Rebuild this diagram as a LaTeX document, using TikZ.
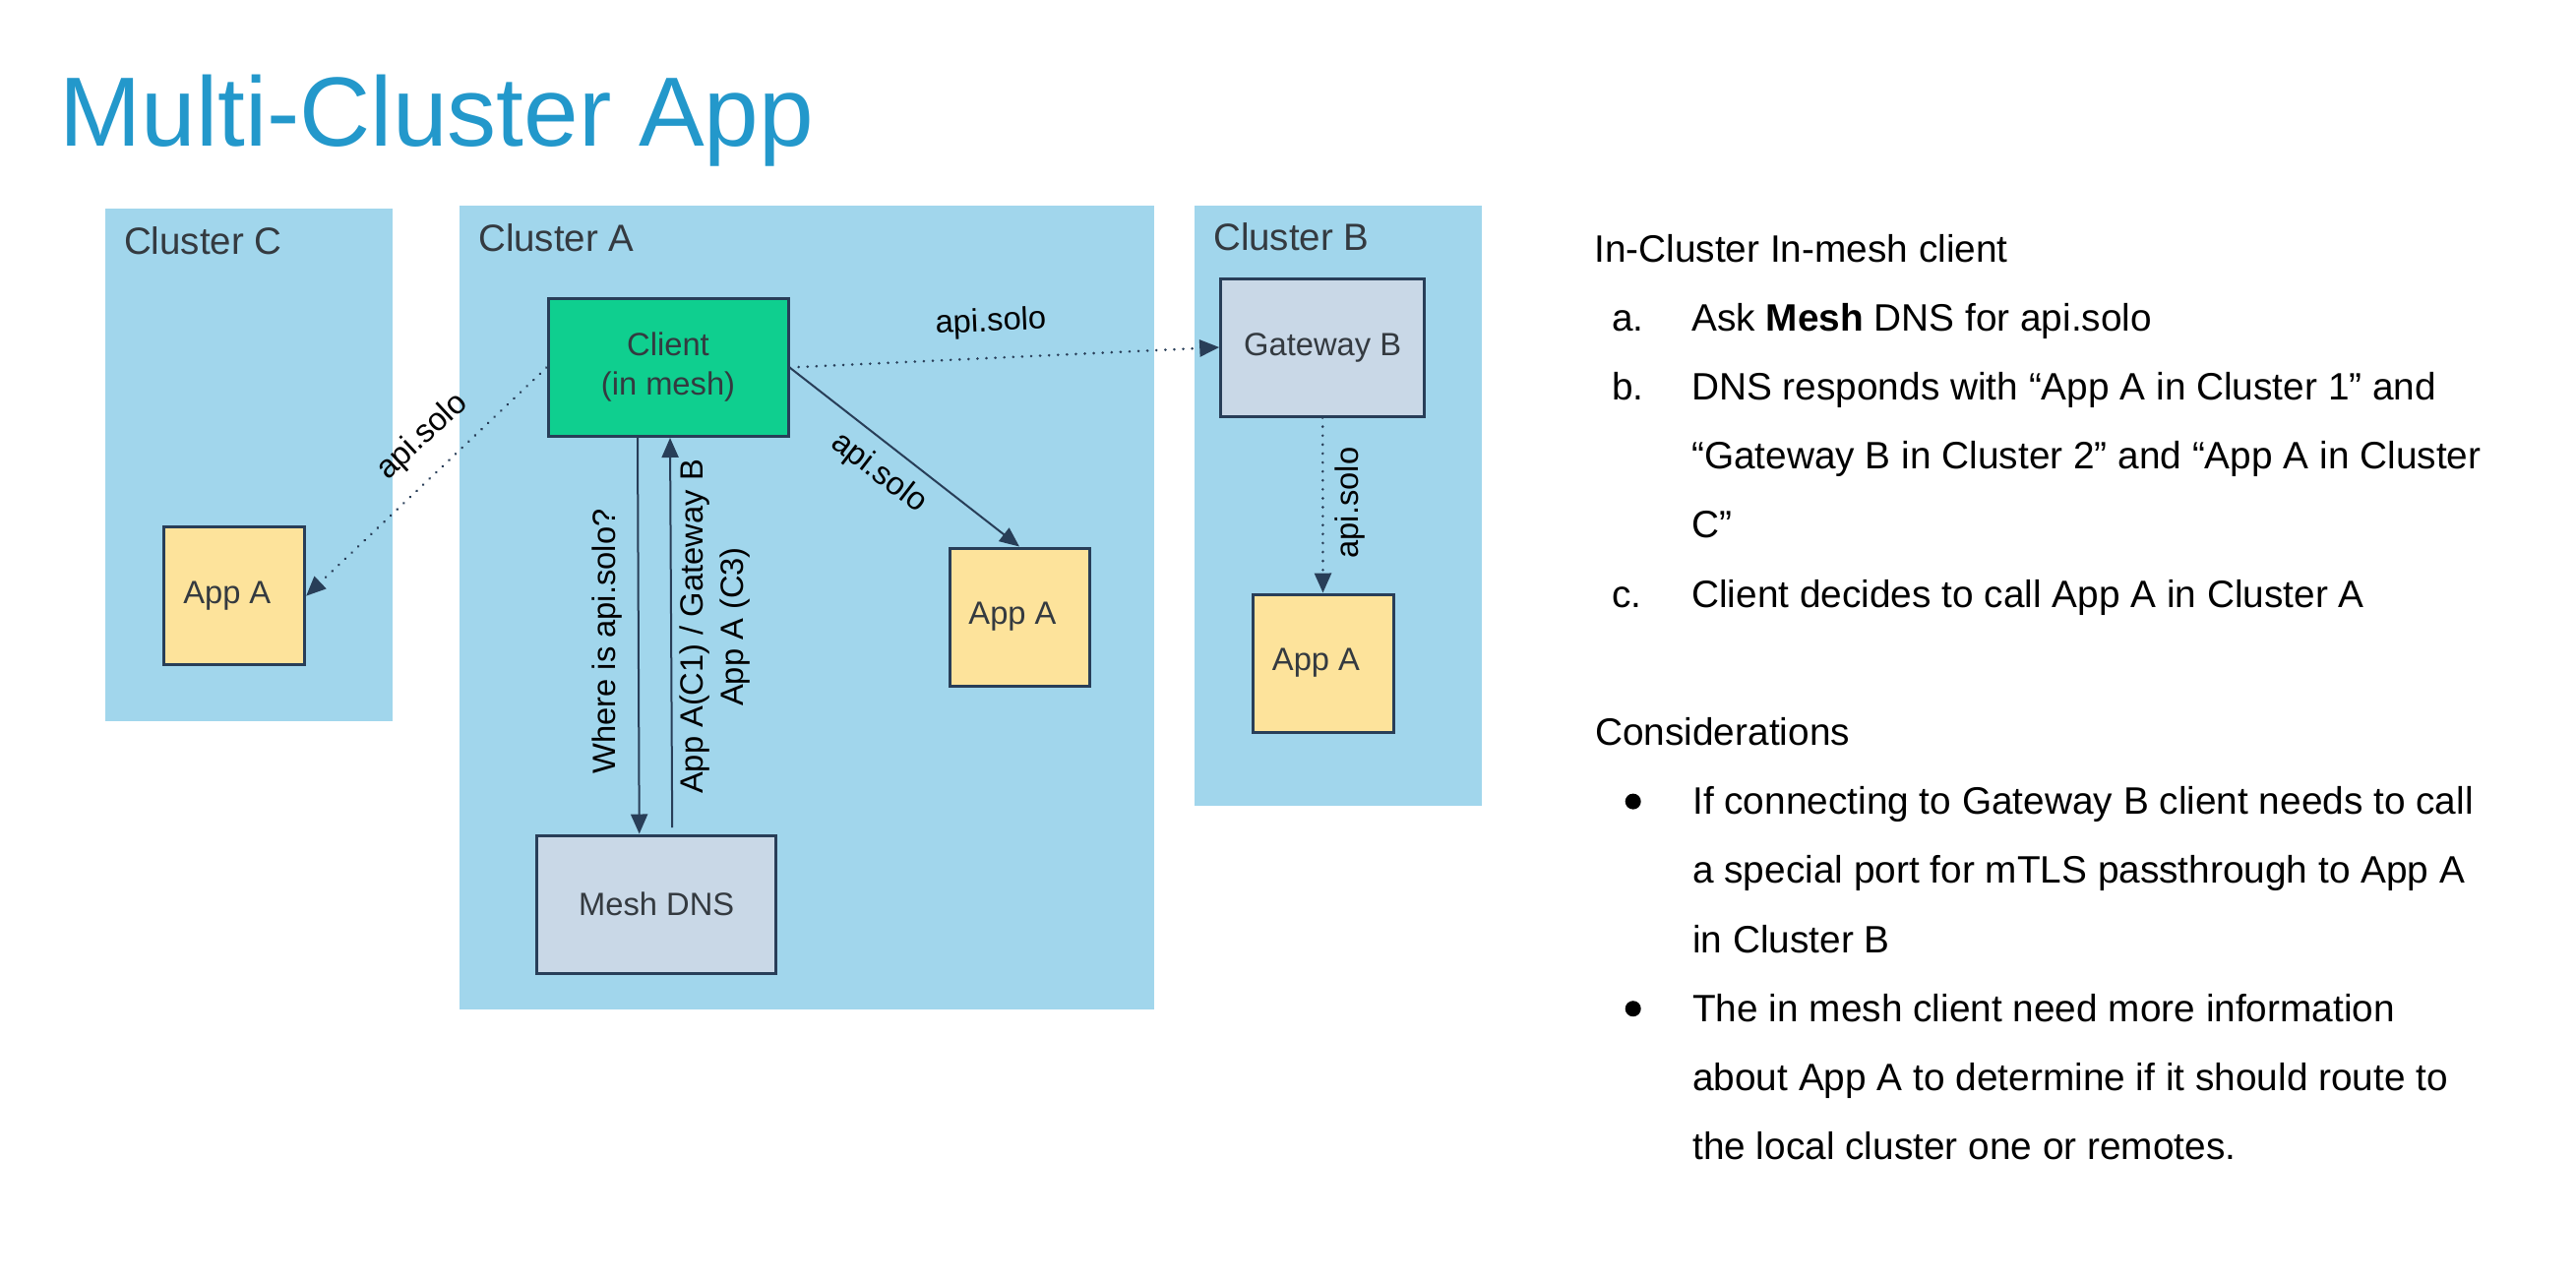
\documentclass[tikz,border=0pt]{standalone}
\usepackage{fontspec}
\setmainfont{Liberation Sans}
\usetikzlibrary{arrows.meta}
\definecolor{titleblue}{RGB}{35,152,203}
\definecolor{clusterbg}{RGB}{161,214,236}
\definecolor{clientgreen}{RGB}{15,207,143}
\definecolor{graybox}{RGB}{201,216,231}
\definecolor{yellowbox}{RGB}{253,227,155}
\definecolor{navy}{RGB}{40,62,88}
\definecolor{boxtext}{RGB}{52,58,64}
\begin{document}
\begin{tikzpicture}[x=1pt,y=-1pt,
  cluster/.style={fill=clusterbg, draw=none, inner sep=0pt, anchor=north west},
  box/.style={draw=navy, line width=3pt, anchor=north west, inner sep=0pt, text=boxtext,
    font=\fontsize{32.7pt}{40pt}\selectfont},
  clab/.style={anchor=base west, inner sep=0pt, text=boxtext, font=\fontsize{38.5pt}{46pt}\selectfont},
  elab/.style={inner sep=0pt, text=black, font=\fontsize{32.7pt}{41pt}\selectfont, align=center},
  conn/.style={draw=navy, line width=2pt, -{Triangle[length=20pt,width=17pt]}},
  dotconn/.style={conn, line width=2.8pt, dash pattern=on 0.1pt off 9pt, line cap=round},
  rtext/.style={anchor=base west, inner sep=0pt, text=black, font=\fontsize{38.8pt}{46pt}\selectfont},
  bulletdot/.style={circle, fill=black, draw=none, minimum size=16pt, inner sep=0pt},
]
\useasboundingbox (0,0) rectangle (2618,1302);
\fill[white] (0,0) rectangle (2618,1302);

% title
\node[anchor=base west, inner sep=0pt, text=titleblue, font=\fontsize{100pt}{110pt}\selectfont] (title) at (60,148.7) {Multi-Cluster App};

% clusters
\node[cluster, minimum width=292pt, minimum height=521pt] (clC) at (107,211.7) {};
\node[cluster, minimum width=705.7pt, minimum height=817.6pt] (clA) at (466.7,208.4) {};
\node[cluster, minimum width=291.3pt, minimum height=610.7pt] (clB) at (1214,208.3) {};
\node[clab] (clClab) at (126,258.3) {Cluster C};
\node[clab] (clAlab) at (486,255) {Cluster A};
\node[clab] (clBlab) at (1233,254.3) {Cluster B};

% boxes
\node[box, fill=clientgreen, minimum width=244pt, minimum height=140pt, align=center] (client) at (555.5,302) {Client\\(in mesh)};
\node[box, fill=graybox, minimum width=243pt, minimum height=140pt] (dns) at (544.2,847.5) {Mesh DNS};
\node[box, fill=graybox, minimum width=207pt, minimum height=140pt] (gw) at (1239.2,281.5) {Gateway B};
\node[box, fill=yellowbox, minimum width=143.6pt, minimum height=140pt] (appC) at (164.5,534.2) {App A\kern14pt};
\node[box, fill=yellowbox, minimum width=142pt, minimum height=140pt] (appAA) at (963.5,555.5) {App A\kern14pt};
\node[box, fill=yellowbox, minimum width=143pt, minimum height=140pt] (appB) at (1271.5,602.5) {App A\kern14pt};

% connectors
\draw[dotconn] (client.west) -- (appC.east);
\draw[dotconn] (client.east) -- (gw.west);
\draw[conn] (client.east) -- (appAA.north);
\draw[conn] ([xshift=-31pt]client.south) -- ([xshift=-17.5pt]dns.north);
\draw[conn] ([xshift=16pt,yshift=6.5pt]dns.north) -- ([xshift=2pt]client.south);
\draw[dotconn] (gw.south) -- (appB.north);

% connector labels
\node[elab, rotate=43] (l1) at (429.5,444) {api.solo};
\node[elab, rotate=2.5] (l2) at (1007,328) {api.solo};
\node[elab, rotate=-37.5] (l3) at (893,481) {api.solo};
\node[elab, rotate=90] (l4) at (1372,511) {api.solo};
\node[elab, rotate=90] (lq) at (617,652) {Where is api.solo?};
\node[elab, rotate=90] (lr) at (727,637) {App A(C1) / Gateway B\\App A (C3)};

% right-hand text
\node[rtext] (t0) at (1620,266) {In-Cluster In-mesh client};
\node[rtext] (ma) at (1638,336.2) {a.};
\node[rtext] (ta) at (1719,336.2) {Ask \textbf{Mesh} DNS for api.solo};
\node[rtext] (mb) at (1638,406.4) {b.};
\node[rtext] (tb1) at (1719,406.4) {DNS responds with “App A in Cluster 1” and};
\node[rtext] (tb2) at (1719,476.6) {“Gateway B in Cluster 2” and “App A in Cluster};
\node[rtext] (tb3) at (1719,546.8) {C”};
\node[rtext] (mc) at (1638,617) {c.};
\node[rtext] (tc) at (1719,617) {Client decides to call App A in Cluster A};
\node[rtext] (cons) at (1621,757.4) {Considerations};
\node[bulletdot] (b1) at (1659.7,814.6) {};
\node[rtext] (s1a) at (1720,827.6) {If connecting to Gateway B client needs to call};
\node[rtext] (s1b) at (1720,897.8) {a special port for mTLS passthrough to App A};
\node[rtext] (s1c) at (1720,968) {in Cluster B};
\node[bulletdot] (b2) at (1659.7,1025.2) {};
\node[rtext] (s2a) at (1720,1038.2) {The in mesh client need more information};
\node[rtext] (s2b) at (1720,1108.4) {about App A to determine if it should route to};
\node[rtext] (s2c) at (1720,1178.6) {the local cluster one or remotes.};
\end{tikzpicture}
\end{document}
